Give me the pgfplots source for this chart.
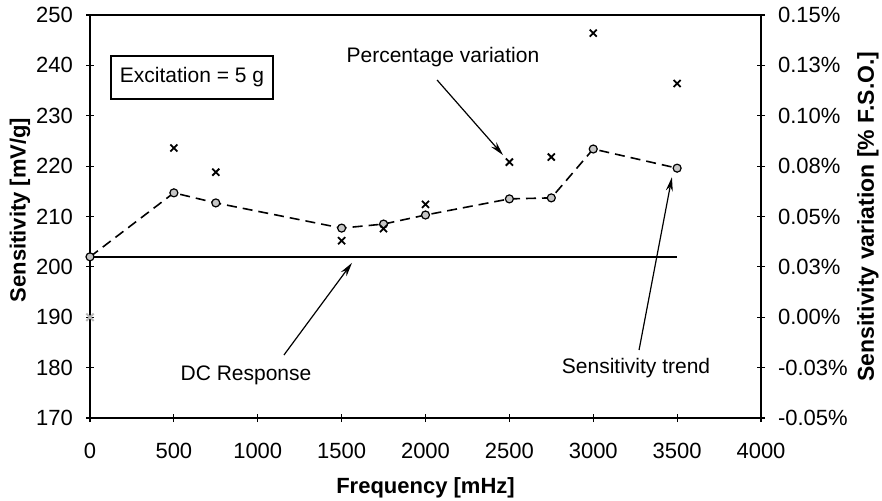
\documentclass[border=0pt]{standalone}
\usepackage{fontspec}
\setmainfont{Liberation Sans}
\usepackage{pgfplots}
\pgfplotsset{compat=1.18}
\usetikzlibrary{arrows.meta}

\begin{document}
\begin{tikzpicture}
\useasboundingbox (-45pt,-41pt) rectangle (396pt,209pt);
\pgfplotsset{
  every axis/.append style={
    scale only axis, width=335.5pt, height=201.5pt,
    at={(0,0)}, anchor=south west,
    xmin=0, xmax=4000,
    tick align=center, major tick length=4pt,
    /pgf/number format/assume math mode=true,
    /pgf/number format/set thousands separator={},
    tick label style={font=\fontsize{11}{13}\selectfont},
    axis line style={line width=1.4pt},
    tick style={black, line width=0.6pt},
  }
}
\begin{axis}[
  ymin=170, ymax=250, ytick={170,180,...,250},
  xtick={0,500,...,4000}, scaled x ticks=false,
  xtick pos=bottom, ytick pos=left,
  xticklabel style={yshift=-7pt},
  yticklabel style={xshift=-3pt},
  clip=false,
]
% DC response
\addplot[black, line width=1pt] coordinates {(0,202) (3500,202)};
% sensitivity trend
\addplot[black, line width=0.8pt, dash pattern=on 5pt off 3pt,
  mark=*, mark size=2pt,
  mark options={solid, fill=gray!45, draw=black, line width=0.6pt}]
  coordinates {
  (0,202.0) (500,214.7) (750,212.7) (1500,207.7) (1750,208.5)
  (2000,210.3) (2500,213.5) (2750,213.7) (3000,223.4) (3500,219.6)
};
% annotations
\node[draw=black, fill=white, line width=1pt, minimum width=81pt,
  minimum height=21.5pt, inner sep=0pt, font=\fontsize{10.5}{12}\selectfont]
  at (axis cs:608,237.6) {Excitation = 5 g};
\node[font=\fontsize{10.5}{12}\selectfont] at (axis cs:2104,241.7) {Percentage variation};
\node[font=\fontsize{10.5}{12}\selectfont] at (axis cs:930,178.5) {DC Response};
\node[font=\fontsize{10.5}{12}\selectfont] at (axis cs:3255,179.9) {Sensitivity trend};
\draw[line width=0.6pt, -{Stealth[length=7pt,width=3.5pt]}]
  (axis cs:2069,237.1) -- (axis cs:2462,222.2);
\draw[line width=0.6pt, -{Stealth[length=7pt,width=3.5pt]}]
  (axis cs:1156,182.5) -- (axis cs:1562,200.8);
\draw[line width=0.6pt, -{Stealth[length=7pt,width=3.5pt]}]
  (axis cs:3273,183.5) -- (axis cs:3469,217.8);
\end{axis}

\begin{axis}[
  ymin=-0.05, ymax=0.15,
  axis y line*=right, axis x line=none,
  ytick={-0.05,-0.025,0,0.025,0.05,0.075,0.1,0.125,0.15},
  yticklabels={-0.05\%,-0.03\%,0.00\%,0.03\%,0.05\%,0.08\%,0.10\%,0.13\%,0.15\%},
  yticklabel style={xshift=3pt},
  clip=false,
]
\addplot[only marks, mark=x, mark size=2.6pt, gray!55, line width=1pt]
  coordinates {(0,0.0)};
\addplot[only marks, mark=x, mark size=2.5pt, black, line width=0.9pt]
  coordinates {
  (500,0.084) (750,0.072) (1500,0.038) (1750,0.044) (2000,0.056)
  (2500,0.077) (2750,0.0795) (3000,0.141) (3500,0.116)
};
\end{axis}

\node[font=\bfseries\fontsize{11}{13}\selectfont] at (167.75pt,-35pt) {Frequency [mHz]};
\node[rotate=90, font=\bfseries\fontsize{11}{13}\selectfont] at (-35pt,104pt) {Sensitivity [mV/g]};
\node[rotate=90, inner sep=0pt, font=\bfseries\fontsize{11.5}{13}\selectfont] at (389pt,100.75pt) {Sensitivity variation [\% F.S.O.]};
\end{tikzpicture}
\end{document}
